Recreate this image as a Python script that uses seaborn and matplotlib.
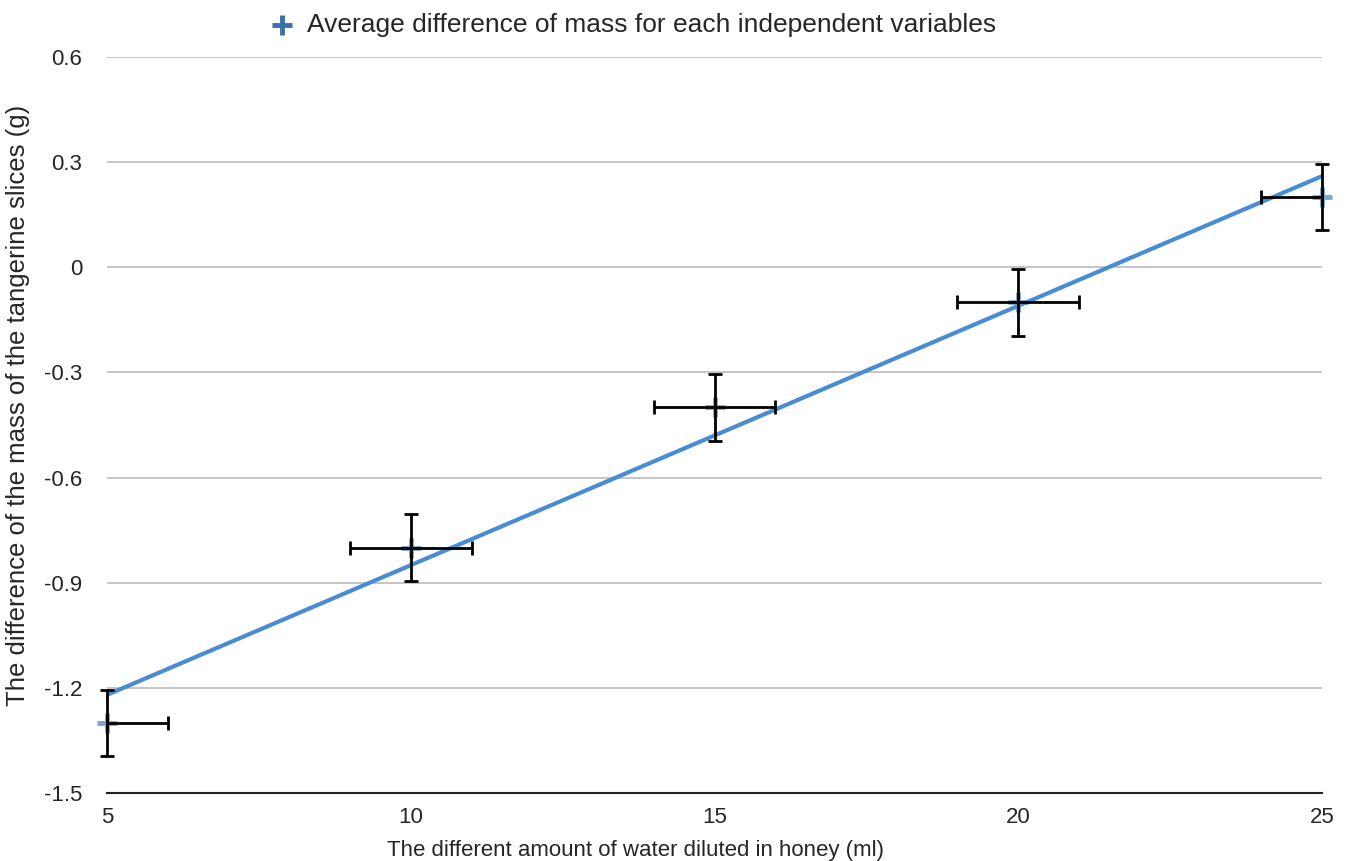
import numpy as np
import pandas as pd
import matplotlib
matplotlib.use("Agg")
import matplotlib.pyplot as plt
import seaborn as sns

# داده‌ها
water_ml = [5, 10, 15, 20, 25]
mass_diff = [-1.3, -0.8, -0.4, -0.1, 0.2]
x_err_low = [0, 1, 1, 1, 1]
x_err_high = [1, 1, 1, 1, 0]
y_err = [0.095, 0.095, 0.095, 0.095, 0.095]
y_ticks = [-1.5, -1.2, -0.9, -0.6, -0.3, 0, 0.3, 0.6]
y_tick_labels = ["-1.5", "-1.2", "-0.9", "-0.6", "-0.3", "0", "0.3", "0.6"]
x_ticks = [5, 10, 15, 20, 25]

df = pd.DataFrame({"water": water_ml, "mass": mass_diff})

sns.set_style("white")
plt.rcParams["font.family"] = ["Liberation Sans", "DejaVu Sans"]

fig = plt.figure(figsize=(13.48, 8.61), dpi=100)
ax = fig.add_axes([0.0794, 0.079, 0.9013, 0.8548])

# خط برازش
sns.regplot(data=df, x="water", y="mass", ax=ax, scatter=False, ci=None,
            line_kws={"color": "#4a8cd4", "lw": 3, "zorder": 2})

# نقاط
sns.scatterplot(data=df, x="water", y="mass", ax=ax, marker="+", s=220,
                color="#5b8fc4", linewidth=3.5, zorder=2.5, clip_on=False, alpha=0.8,
                label="Average difference of mass for each independent variables")

# میله‌های خطا
ax.errorbar(water_ml, mass_diff, xerr=[x_err_low, x_err_high], yerr=y_err, fmt="none",
            ecolor="black", elinewidth=2, capsize=5, capthick=2, zorder=3, clip_on=False)

ax.set_xlim(5, 25)
ax.set_ylim(-1.5, 0.6)
ax.set_xticks(x_ticks)
ax.set_yticks(y_ticks)
ax.set_yticklabels(y_tick_labels)
ax.tick_params(axis="both", labelsize=16, length=0)
ax.tick_params(axis="y", pad=18)
ax.tick_params(axis="x", pad=10)

ax.grid(axis="y", color="#bbbbbb", lw=1.2)
ax.grid(axis="x", visible=False)
for s in ["left", "right", "top"]:
    ax.spines[s].set_visible(False)
ax.spines["bottom"].set_color("#222222")
ax.spines["bottom"].set_linewidth(1.5)

ax.set_xlabel("The different amount of water diluted in honey (ml)", fontsize=16)
ax.set_ylabel("The difference of the mass of the tangerine slices (g)", fontsize=18.5)
ax.xaxis.set_label_coords(0.435, -0.064)
ax.yaxis.set_label_coords(-0.063, 0.527)

leg = ax.legend(loc="center", bbox_to_anchor=(0.468, 0.971), bbox_transform=fig.transFigure,
                frameon=False, fontsize=19, handletextpad=0.3, handlelength=1.3)
for h in leg.legend_handles:
    h.set_alpha(1)
    h.set_color("#3d6fa8")

fig.savefig("out.png", dpi=100)
